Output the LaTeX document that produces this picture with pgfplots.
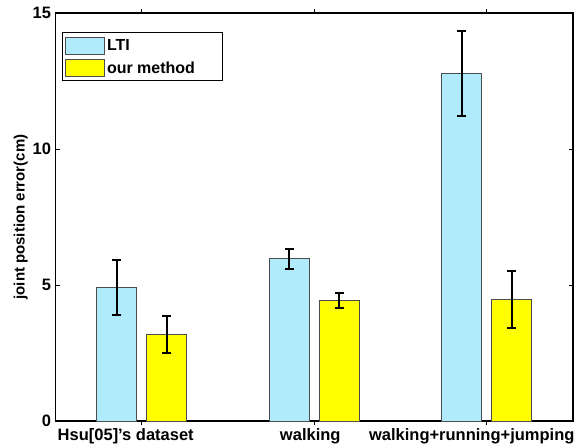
\documentclass[border=0pt]{standalone}
\usepackage{pgfplots}
\pgfplotsset{compat=1.18}
\usepackage{fontspec}
\setmainfont{Liberation Sans}
\usetikzlibrary{calc}
\definecolor{ltiblue}{RGB}{176,235,252}
\definecolor{ouryellow}{RGB}{255,255,0}
\pgfplotsset{mylegend/.style={legend image code/.code={\draw[##1, line width=0.6pt] (0pt,-8.5pt) rectangle (39pt,8.5pt);}}}
\begin{document}
\begin{tikzpicture}
\begin{axis}[
  name=ax,
  scale only axis,
  width=517.5pt, height=408pt,
  xmin=0.5, xmax=3.5, ymin=0, ymax=15,
  xtick={1,2,3},
  xticklabels={{Hsu[05]'s dataset\hspace*{32pt}},{walking\hspace*{8pt}},{walking+running+jumping\hspace*{30pt}}},
  ytick={0,5,10,15},
  tick align=inside,
  major tick length=4pt,
  tick style={black, line width=0.8pt},
  axis line style={line width=1.4pt},
  /pgf/number format/assume math mode=true,
  tick label style={font=\fontsize{16.5}{19}\selectfont\bfseries},
  xticklabel style={yshift=0pt},
  yticklabel style={xshift=-1pt},
  ylabel={joint position error(cm)},
  ylabel style={font=\fontsize{15}{17}\selectfont\bfseries, yshift=-2pt},
  legend style={at={(0.0126,0.953)}, anchor=north west, draw=black, line width=0.8pt,
     font=\fontsize{16}{19}\selectfont\bfseries, inner xsep=3pt, inner ysep=4pt,
     row sep=5pt, legend cell align=left},
  ybar, bar width=40pt,
]
\addplot[fill=ltiblue, draw=black!70, line width=0.6pt, bar shift=-25pt, mylegend,
  error bars/.cd, y dir=both, y explicit,
  error bar style={line width=2pt, black},
  error mark options={rotate=90, mark size=4.5pt, line width=2pt, black}]
  coordinates {(1,4.90) +- (0,1.02) (2,5.97) +- (0,0.37) (3,12.78) +- (0,1.57)};
\addplot[fill=ouryellow, draw=black!70, line width=0.6pt, bar shift=25pt, mylegend,
  error bars/.cd, y dir=both, y explicit,
  error bar style={line width=2pt, black},
  error mark options={rotate=90, mark size=4.5pt, line width=2pt, black}]
  coordinates {(1,3.17) +- (0,0.68) (2,4.43) +- (0,0.26) (3,4.46) +- (0,1.04)};
\legend{LTI, our method\hspace*{22pt}}
\end{axis}
\pgfresetboundingbox
\path ($(ax.south west)+(-55.5pt,-24pt)$) rectangle ($(ax.north east)+(2pt,13pt)$);
\end{tikzpicture}
\end{document}
